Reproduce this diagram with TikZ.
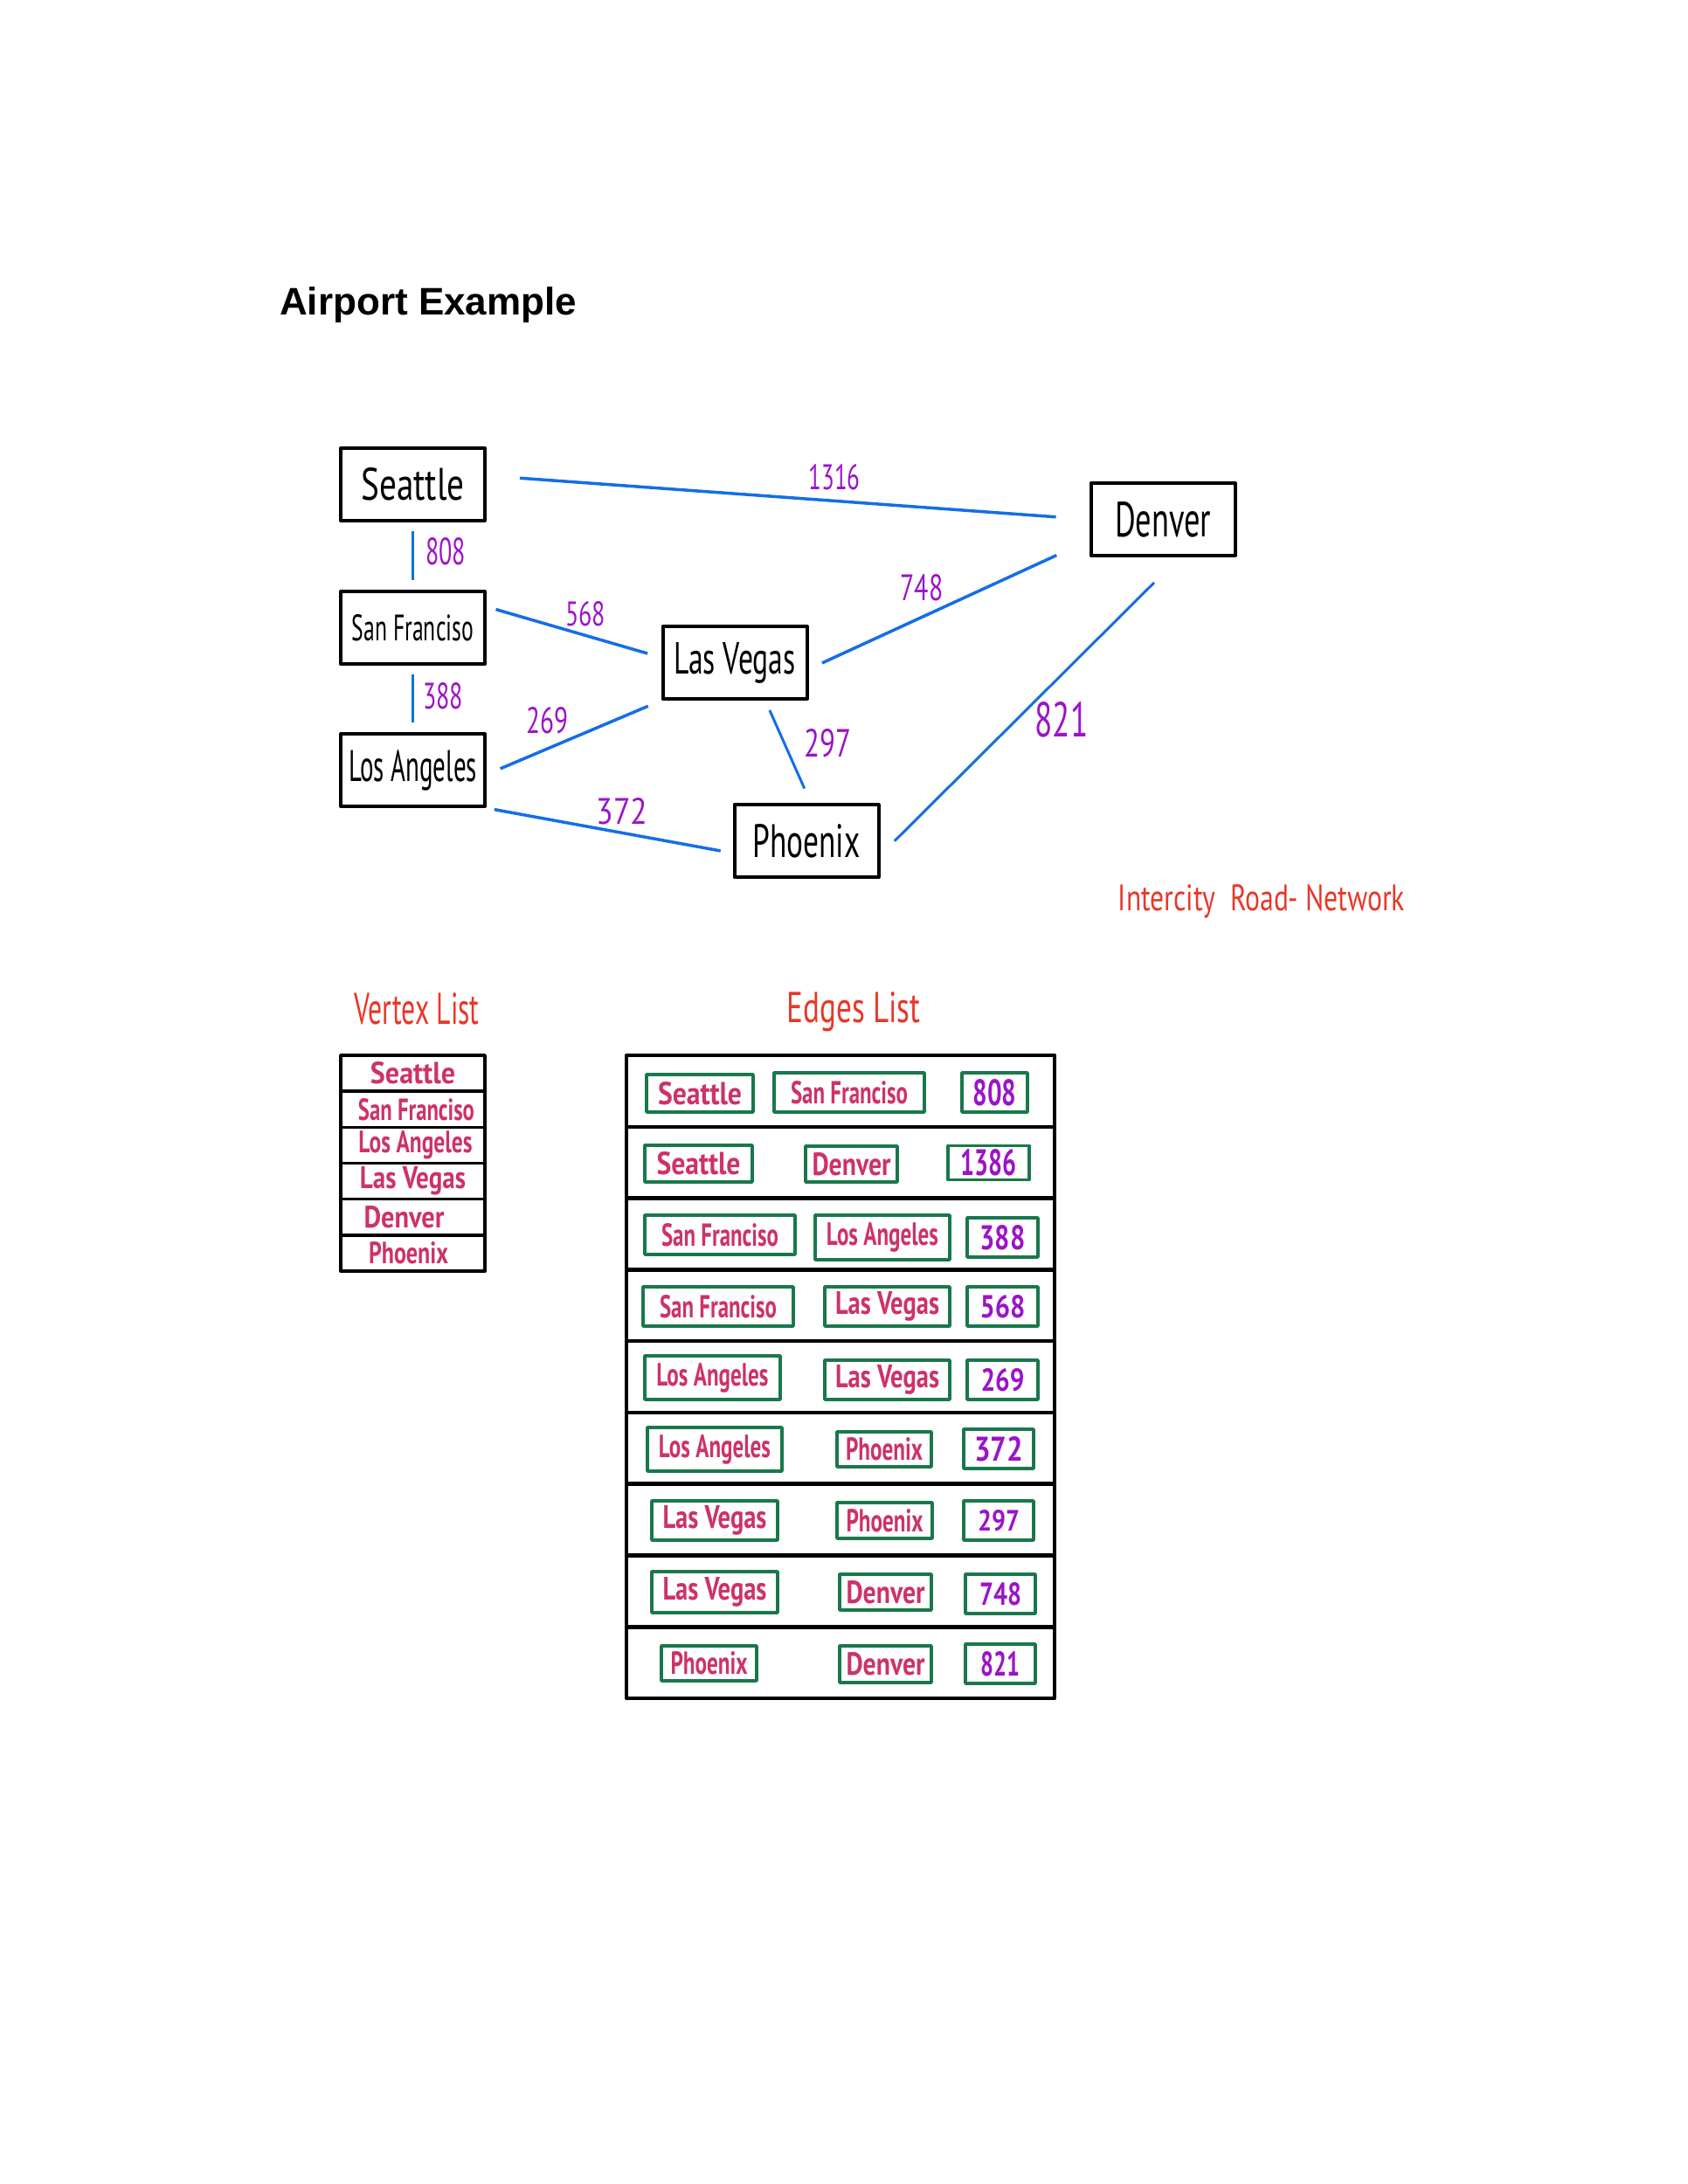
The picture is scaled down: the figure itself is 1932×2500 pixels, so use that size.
\documentclass[tikz,border=0pt]{standalone}
\usepackage{fontspec}
\usepackage{graphicx}
\setmainfont{Liberation Sans}
\newfontfamily\hwfont{PT Sans}
\definecolor{edgeblue}{RGB}{20,110,230}
\definecolor{lblpurple}{RGB}{155,20,200}
\definecolor{hdrred}{RGB}{232,55,40}
\definecolor{itemred}{RGB}{205,50,105}
\definecolor{boxgreen}{RGB}{25,120,75}
\newcommand{\hw}[3]{\resizebox{#1pt}{#2pt}{\hwfont #3}}
\newcommand{\hwb}[3]{\resizebox{#1pt}{#2pt}{\hwfont\bfseries #3}}
\tikzset{
  city/.style={draw=black, line width=4pt, minimum width=165pt, minimum height=83pt, inner sep=0pt},
  road/.style={draw=edgeblue, line width=3.5pt},
  dist/.style={text=lblpurple, inner sep=0pt},
  hdr/.style={text=hdrred, inner sep=0pt},
  vcell/.style={draw=black, line width=3.5pt, minimum width=165pt, minimum height=41.17pt, inner sep=0pt, text=itemred},
  erow/.style={draw=black, line width=4.5pt, minimum width=490pt, minimum height=81.78pt, inner sep=0pt},
  gbox/.style={draw=boxgreen, line width=3.5pt, inner sep=0pt, text=itemred},
  gnum/.style={gbox, text=lblpurple}
}
\begin{document}
\begin{tikzpicture}[x=1pt, y=-1pt, line join=round]
\useasboundingbox (0,0) rectangle (1932,2500);

% title
\node[anchor=base west, inner sep=0pt] (title) at (320,360) {\fontsize{44}{50}\selectfont\bfseries Airport Example};

% graph nodes
\node[city] (sea) at (472.5,554.5) {\hw{118}{37}{Seattle}};
\node[city] (sf)  at (472.5,718.5) {\hw{139}{30}{San Franciso}};
\node[city] (la)  at (472.5,881.5) {\hw{147}{36}{Los Angeles}};
\node[city] (lv)  at (841,758.5)   {\hw{139}{36}{Las Vegas}};
\node[city] (phx) at (923,962.5)   {\hw{123}{38}{Phoenix}};
\node[city] (den) at (1331,594.5)  {\hw{110}{40}{Denver}};

% roads
\draw[road, shorten <=38pt, shorten >=38pt] ([yshift=10pt]sea.east) -- (den.west);
\draw[road, shorten <=10pt, shorten >=11pt] (sea.south) -- (sf.north);
\draw[road, shorten <=11pt, shorten >=16pt] ([yshift=24pt]sf.east) -- ([yshift=6pt]lv.west);
\draw[road, shorten <=10pt, shorten >=11pt] (sf.south) -- (la.north);
\draw[road, shorten <=17pt, shorten >=16pt] ([yshift=-5pt]la.east) -- (lv.south west);
\draw[road, shorten <=17pt, shorten >=41pt] ([yshift=-7.5pt]lv.east) -- ([yshift=-24pt]den.west);
\draw[road, line width=3pt, shorten <=12pt, shorten >=18pt] ([xshift=35pt]lv.south) -- ([xshift=5pt]phx.north);
\draw[road, shorten <=9pt, shorten >=14pt] (la.south east) -- ([yshift=-14pt]phx.west);
\draw[road, line width=3pt, shorten <=23pt, shorten >=41pt] ([yshift=-16.5pt]phx.east) -- ([xshift=19pt]den.south);

% distance labels
\node[dist] (d1316) at (955,546) {\hw{59}{29}{1316}};
\node[dist] (d808)  at (510,631) {\hw{46}{31}{808}};
\node[dist] (d568)  at (670,703) {\hw{46}{28}{568}};
\node[dist] (d388)  at (507,797) {\hw{46}{30}{388}};
\node[dist] (d269)  at (626,825) {\hw{48}{30}{269}};
\node[dist] (d748)  at (1055,673) {\hw{49}{30}{748}};
\node[dist] (d297)  at (947,851) {\hw{54}{32}{297}};
\node[dist] (d372)  at (712,929) {\hw{59}{30}{372}};
\node[dist] (d821)  at (1215,824) {\hw{61}{40}{821}};

\node[hdr] (net) at (1444,1032) {\hw{328}{30}{Intercity\ \ Road- Network}};

% headings
\node[hdr] (vhead) at (477,1155) {\hw{143}{36}{Vertex List}};
\node[hdr] (ehead) at (977,1158) {\hw{153}{35}{Edges List}};

% vertex list
\node[vcell] (v1) at (472.5,1228.6) {\raisebox{-4pt}{\hwb{97}{25}{Seattle}}};
\node[vcell] (v2) at (472.5,1269.8) {\raisebox{-4pt}{\hskip8pt\hwb{133}{25}{San Franciso}}};
\node[vcell] (v3) at (472.5,1311.0) {\raisebox{-4pt}{\hskip6pt\hwb{130}{25}{Los Angeles}}};
\node[vcell] (v4) at (472.5,1352.1) {\raisebox{-4pt}{\hwb{121}{25}{Las Vegas}}};
\node[vcell] (v5) at (472.5,1393.3) {\raisebox{-4pt}{\hwb{92}{25}{Denver}\hskip20pt}};
\node[vcell] (v6) at (472.5,1434.5) {\raisebox{-4pt}{\hwb{91}{25}{Phoenix}\hskip10pt}};

% edges list rows
\foreach \i in {0,...,8} {
  \node[erow] (r\i) at (962,{1248.9+81.78*\i}) {};
}

% row 1
\node[gbox, minimum width=122pt, minimum height=43pt] (e1a) at (801,1251.5) {\hwb{96}{26}{Seattle}};
\node[gbox, minimum width=172pt, minimum height=45pt] (e1b) at (972,1250.5) {\hwb{134}{26}{San Franciso}};
\node[gnum, minimum width=75pt, minimum height=45pt] (e1c) at (1138.5,1250.5) {\hwb{50}{30}{808}};
% row 2
\node[gbox, minimum width=123pt, minimum height=42pt] (e2a) at (799.5,1332) {\hwb{96}{26}{Seattle}};
\node[gbox, minimum width=105pt, minimum height=41pt] (e2b) at (974.5,1332.5) {\hwb{90}{26}{Denver}};
\node[gnum, minimum width=93pt, minimum height=39pt] (e2c) at (1131.5,1331) {\hwb{64}{30}{1386}};
% row 3
\node[gbox, minimum width=172pt, minimum height=45pt] (e3a) at (824,1413.5) {\hwb{134}{26}{San Franciso}};
\node[gbox, minimum width=154pt, minimum height=51pt] (e3b) at (1010,1416.5) {\hwb{128}{26}{Los Angeles}};
\node[gnum, minimum width=81pt, minimum height=45pt] (e3c) at (1147.5,1416.5) {\hwb{52}{28}{388}};
% row 4
\node[gbox, minimum width=172pt, minimum height=45pt] (e4a) at (822,1495.5) {\hwb{134}{26}{San Franciso}};
\node[gbox, minimum width=143pt, minimum height=45pt] (e4b) at (1015.5,1495.5) {\hwb{119}{26}{Las Vegas}};
\node[gnum, minimum width=81pt, minimum height=45pt] (e4c) at (1147.5,1495.5) {\hwb{52}{26}{568}};
% row 5
\node[gbox, minimum width=155pt, minimum height=50pt] (e5a) at (815.5,1577) {\hwb{128}{26}{Los Angeles}};
\node[gbox, minimum width=143pt, minimum height=45pt] (e5b) at (1015.5,1579.5) {\hwb{119}{26}{Las Vegas}};
\node[gnum, minimum width=81pt, minimum height=45pt] (e5c) at (1147.5,1579.5) {\hwb{50}{26}{269}};
% row 6
\node[gbox, minimum width=154pt, minimum height=50pt] (e6a) at (818,1659) {\hwb{128}{26}{Los Angeles}};
\node[gbox, minimum width=108pt, minimum height=40pt] (e6b) at (1012,1659) {\hwb{88}{26}{Phoenix}};
\node[gnum, minimum width=80pt, minimum height=45pt] (e6c) at (1143,1658.5) {\hwb{56}{28}{372}};
% row 7
\node[gbox, minimum width=144pt, minimum height=45pt] (e7a) at (818,1740.5) {\hwb{119}{26}{Las Vegas}};
\node[gbox, minimum width=109pt, minimum height=41pt] (e7b) at (1012.5,1740.5) {\hwb{88}{26}{Phoenix}};
\node[gnum, minimum width=80pt, minimum height=45pt] (e7c) at (1143,1740.5) {\hwb{48}{24}{297}};
% row 8
\node[gbox, minimum width=144pt, minimum height=47pt] (e8a) at (818,1822.5) {\hwb{119}{26}{Las Vegas}};
\node[gbox, minimum width=105pt, minimum height=41pt] (e8b) at (1013.5,1822.5) {\hwb{90}{26}{Denver}};
\node[gnum, minimum width=80pt, minimum height=45pt] (e8c) at (1145,1824.5) {\hwb{48}{26}{748}};
% row 9
\node[gbox, minimum width=109pt, minimum height=40pt] (e9a) at (811.5,1904) {\hwb{88}{26}{Phoenix}};
\node[gbox, minimum width=105pt, minimum height=42pt] (e9b) at (1013.5,1905) {\hwb{90}{26}{Denver}};
\node[gnum, minimum width=80pt, minimum height=45pt] (e9c) at (1145,1904.5) {\hwb{45}{28}{821}};
\end{tikzpicture}
\end{document}
